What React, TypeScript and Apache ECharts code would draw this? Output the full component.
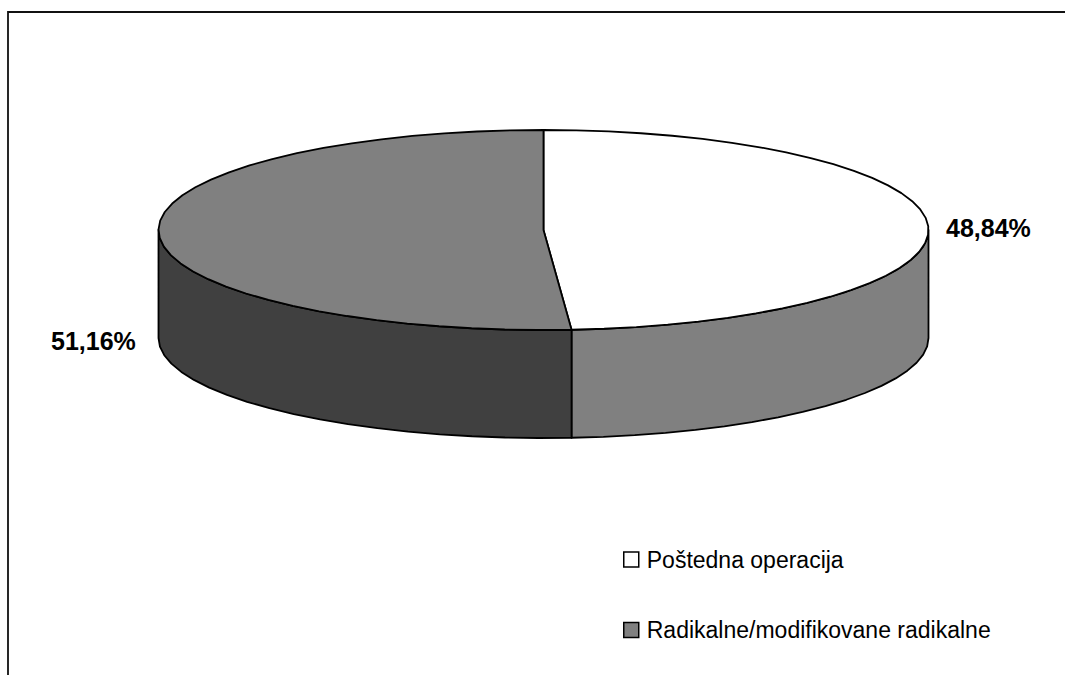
import React, { useEffect, useRef } from "react";
import * as echarts from "echarts";

const sliceNames = ["Poštedna operacija", "Radikalne/modifikovane radikalne"];
const sliceShares = [48.84, 51.16];
const topColors = ["#ffffff", "#808080"];
const wallColors = ["#808080", "#404040"];
const labelAnchors = [
  { x: 946, y: 228 },
  { x: 51, y: 341 },
];

// Disc geometry: an ellipse for the lid, extruded downwards for the wall.
const CX = 543.5;
const CY = 230;
const RX = 385;
const RY = 100;
const DEPTH = 108;
const FACET_DEG = 5;
const STROKE = "#000000";
const FONT = "Liberation Sans, Arial, sans-serif";

// Angles run clockwise from twelve o'clock.
function rimPoint(deg: number, drop = 0): number[] {
  const a = (deg * Math.PI) / 180;
  return [CX + RX * Math.sin(a), CY - RY * Math.cos(a) + drop];
}

function arcPoints(from: number, to: number, drop = 0): number[][] {
  const pts: number[][] = [];
  const steps = Math.max(1, Math.ceil((to - from) / FACET_DEG));
  for (let i = 0; i <= steps; i++) {
    pts.push(rimPoint(from + ((to - from) * i) / steps, drop));
  }
  return pts;
}

function sliceRenderer(index: number) {
  return (_params: any, api: any) => {
    const total = sliceShares.reduce((s, v) => s + v, 0);
    const before = sliceShares.slice(0, index).reduce((s, v) => s + v, 0);
    const value = api.value(0) as number;
    const start = (before / total) * 360;
    const end = ((before + value) / total) * 360;
    const children: any[] = [];

    // Only the front half of the wall (90° to 270°) faces the viewer.
    const wallFrom = Math.max(start, 90);
    const wallTo = Math.min(end, 270);
    if (wallTo > wallFrom) {
      const upper = arcPoints(wallFrom, wallTo);
      const lower = arcPoints(wallFrom, wallTo, DEPTH).reverse();
      children.push({
        type: "polygon",
        shape: { points: [...upper, ...lower] },
        style: { fill: wallColors[index], stroke: STROKE, lineWidth: 1.8, lineJoin: "round" },
      });
    }

    children.push({
      type: "polygon",
      shape: { points: [[CX, CY], ...arcPoints(start, end)] },
      style: { fill: topColors[index], stroke: STROKE, lineWidth: 1.8, lineJoin: "round" },
    });

    children.push({
      type: "text",
      style: {
        text: value.toFixed(2).replace(".", ",") + "%",
        x: labelAnchors[index].x,
        y: labelAnchors[index].y,
        textAlign: "left",
        textVerticalAlign: "middle",
        fill: "#000000",
        font: `bold 25px ${FONT}`,
      },
    });

    return { type: "group", children };
  };
}

export default function App() {
  const ref = useRef<HTMLDivElement>(null);

  useEffect(() => {
    const chart = echarts.init(ref.current!, undefined, { renderer: "svg" });
    chart.setOption({
      animation: false,
      backgroundColor: "#ffffff",
      legend: {
        orient: "vertical",
        left: 623,
        top: 548,
        padding: 0,
        itemWidth: 15,
        itemHeight: 15,
        itemGap: 47.5,
        selectedMode: false,
        textStyle: { fontFamily: FONT, fontSize: 23, color: "#000000", padding: [0, 0, 0, 3] },
        data: sliceNames.map((name, i) => ({
          name,
          icon: "rect",
          itemStyle: { color: topColors[i], borderColor: STROKE, borderWidth: 1.5 },
        })),
      },
      graphic: [
        {
          type: "polyline",
          shape: { points: [[8, 675], [8, 12], [1065, 12]] },
          style: { fill: "none", stroke: "#111111", lineWidth: 1.8 },
          silent: true,
        },
      ],
      series: sliceNames.map((name, i) => ({
        type: "custom",
        name,
        coordinateSystem: "none",
        silent: true,
        itemStyle: { color: topColors[i] },
        data: [[sliceShares[i]]],
        renderItem: sliceRenderer(i),
      })),
    });
    return () => chart.dispose();
  }, []);

  return (
    <div
      ref={ref}
      style={{ position: "fixed", left: 0, top: 0, width: 1065, height: 675 }}
    />
  );
}
